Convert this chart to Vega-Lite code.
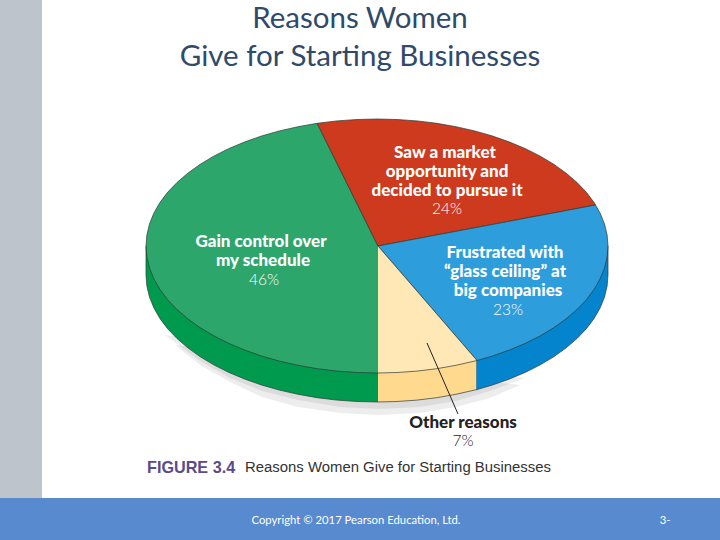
{"$schema":"https://vega.github.io/schema/vega-lite/v6.json","width":720,"height":540,"padding":0,"autosize":{"type":"fit","contains":"padding"},"background":"white","config":{"view":{"stroke":null}},
"encoding":{"x":{"field":"x","type":"quantitative","axis":null,"scale":{"domain":[0,720],"nice":false,"zero":false}},"y":{"field":"y","type":"quantitative","axis":null,"scale":{"domain":[0,540],"reverse":true,"nice":false,"zero":false}}},
"layer":[
{"data":{"values":[{"x":0,"x2":42,"y":0,"y2":498,"c":"#BEC4CC"},{"x":0,"x2":720,"y":498,"y2":540,"c":"#578ACF"}]},"mark":{"type":"rect"},"encoding":{"x2":{"field":"x2"},"y2":{"field":"y2"},"fill":{"field":"c","type":"nominal","scale":null}}},
{"data":{"values":[
{"s":"a","i":0,"x":175,"y":345},{"s":"a","i":1,"x":200,"y":365},{"s":"a","i":2,"x":230,"y":382},{"s":"a","i":3,"x":262,"y":397},{"s":"a","i":4,"x":298,"y":407},{"s":"a","i":5,"x":340,"y":413},{"s":"a","i":6,"x":378,"y":415},{"s":"a","i":7,"x":420,"y":413},{"s":"a","i":8,"x":456,"y":407},{"s":"a","i":9,"x":490,"y":398},{"s":"a","i":10,"x":520,"y":385},
{"s":"b","i":0,"x":165,"y":335},{"s":"b","i":1,"x":200,"y":361},{"s":"b","i":2,"x":230,"y":378},{"s":"b","i":3,"x":262,"y":391},{"s":"b","i":4,"x":298,"y":400},{"s":"b","i":5,"x":340,"y":407},{"s":"b","i":6,"x":378,"y":409},{"s":"b","i":7,"x":420,"y":407},{"s":"b","i":8,"x":456,"y":401},{"s":"b","i":9,"x":490,"y":391},{"s":"b","i":10,"x":525,"y":378}
]},"mark":{"type":"line","fill":"#000000","fillOpacity":0.07,"stroke":"transparent"},"encoding":{"detail":{"field":"s"},"order":{"field":"i","type":"quantitative"}}},
{"data":{"values":[
{"p":"cs","i":0,"x":378,"y":402},{"p":"cs","i":1,"x":397.1,"y":401.5},{"p":"cs","i":2,"x":417.1,"y":400.1},{"p":"cs","i":3,"x":436.8,"y":397.7},{"p":"cs","i":4,"x":456,"y":394.3},{"p":"cs","i":5,"x":477,"y":389.5},{"p":"cs","i":6,"x":477,"y":246},{"p":"cs","i":7,"x":378,"y":246},
{"p":"gs","i":0,"x":378,"y":246},{"p":"gs","i":1,"x":146,"y":246},{"p":"gs","i":2,"x":146,"y":275},{"p":"gs","i":3,"x":146.9,"y":286.1},{"p":"gs","i":4,"x":149.5,"y":297.1},{"p":"gs","i":5,"x":153.9,"y":307.9},{"p":"gs","i":6,"x":159.9,"y":318.4},{"p":"gs","i":7,"x":167.6,"y":328.7},{"p":"gs","i":8,"x":177,"y":338.5},{"p":"gs","i":9,"x":187.8,"y":347.8},{"p":"gs","i":10,"x":200,"y":356.6},{"p":"gs","i":11,"x":213.7,"y":364.8},{"p":"gs","i":12,"x":228.5,"y":372.3},{"p":"gs","i":13,"x":244.5,"y":379},{"p":"gs","i":14,"x":261.5,"y":385},{"p":"gs","i":15,"x":279.4,"y":390.1},{"p":"gs","i":16,"x":298,"y":394.3},{"p":"gs","i":17,"x":317.2,"y":397.7},{"p":"gs","i":18,"x":336.9,"y":400.1},{"p":"gs","i":19,"x":356.9,"y":401.5},{"p":"gs","i":20,"x":378,"y":402},
{"p":"bs","i":0,"x":476.4,"y":389.7},{"p":"bs","i":1,"x":492.5,"y":385},{"p":"bs","i":2,"x":509.5,"y":379},{"p":"bs","i":3,"x":525.5,"y":372.3},{"p":"bs","i":4,"x":540.3,"y":364.8},{"p":"bs","i":5,"x":554,"y":356.6},{"p":"bs","i":6,"x":566.2,"y":347.8},{"p":"bs","i":7,"x":577,"y":338.5},{"p":"bs","i":8,"x":586.4,"y":328.7},{"p":"bs","i":9,"x":594.1,"y":318.4},{"p":"bs","i":10,"x":600.1,"y":307.9},{"p":"bs","i":11,"x":604.5,"y":297.1},{"p":"bs","i":12,"x":607.1,"y":286.1},{"p":"bs","i":13,"x":608,"y":275},{"p":"bs","i":14,"x":608,"y":246},{"p":"bs","i":15,"x":476.4,"y":246},
{"p":"g","i":0,"x":378,"y":373},{"p":"g","i":1,"x":356.9,"y":372.5},{"p":"g","i":2,"x":336.9,"y":371.1},{"p":"g","i":3,"x":317.2,"y":368.7},{"p":"g","i":4,"x":298,"y":365.3},{"p":"g","i":5,"x":279.4,"y":361.1},{"p":"g","i":6,"x":261.5,"y":356},{"p":"g","i":7,"x":244.5,"y":350},{"p":"g","i":8,"x":228.5,"y":343.3},{"p":"g","i":9,"x":213.7,"y":335.8},{"p":"g","i":10,"x":200,"y":327.6},{"p":"g","i":11,"x":187.8,"y":318.8},{"p":"g","i":12,"x":177,"y":309.5},{"p":"g","i":13,"x":167.6,"y":299.7},{"p":"g","i":14,"x":159.9,"y":289.4},{"p":"g","i":15,"x":153.9,"y":278.9},{"p":"g","i":16,"x":149.5,"y":268.1},{"p":"g","i":17,"x":146.9,"y":257.1},{"p":"g","i":18,"x":146,"y":246},{"p":"g","i":19,"x":146.9,"y":234.9},{"p":"g","i":20,"x":149.5,"y":223.9},{"p":"g","i":21,"x":153.9,"y":213.1},{"p":"g","i":22,"x":159.9,"y":202.6},{"p":"g","i":23,"x":167.6,"y":192.3},{"p":"g","i":24,"x":177,"y":182.5},{"p":"g","i":25,"x":187.8,"y":173.2},{"p":"g","i":26,"x":200,"y":164.4},{"p":"g","i":27,"x":213.7,"y":156.2},{"p":"g","i":28,"x":228.5,"y":148.7},{"p":"g","i":29,"x":244.5,"y":142},{"p":"g","i":30,"x":261.5,"y":136},{"p":"g","i":31,"x":279.4,"y":130.9},{"p":"g","i":32,"x":298,"y":126.7},{"p":"g","i":33,"x":317.2,"y":123.3},{"p":"g","i":34,"x":378,"y":246},
{"p":"r","i":0,"x":378,"y":246},{"p":"r","i":1,"x":317.2,"y":123.3},{"p":"r","i":2,"x":336.9,"y":120.9},{"p":"r","i":3,"x":356.9,"y":119.5},{"p":"r","i":4,"x":377,"y":119},{"p":"r","i":5,"x":397.1,"y":119.5},{"p":"r","i":6,"x":417.1,"y":120.9},{"p":"r","i":7,"x":436.8,"y":123.3},{"p":"r","i":8,"x":456,"y":126.7},{"p":"r","i":9,"x":474.6,"y":130.9},{"p":"r","i":10,"x":492.5,"y":136},{"p":"r","i":11,"x":509.5,"y":142},{"p":"r","i":12,"x":525.5,"y":148.7},{"p":"r","i":13,"x":540.3,"y":156.2},{"p":"r","i":14,"x":554,"y":164.4},{"p":"r","i":15,"x":566.2,"y":173.2},{"p":"r","i":16,"x":577,"y":182.5},{"p":"r","i":17,"x":586.4,"y":192.3},{"p":"r","i":18,"x":594.1,"y":202.6},{"p":"r","i":19,"x":595.5,"y":205},{"p":"r","i":20,"x":378,"y":246},
{"p":"b","i":0,"x":378,"y":246},{"p":"b","i":1,"x":595.5,"y":205},{"p":"b","i":2,"x":600.1,"y":213.1},{"p":"b","i":3,"x":604.5,"y":223.9},{"p":"b","i":4,"x":607.1,"y":234.9},{"p":"b","i":5,"x":608,"y":246},{"p":"b","i":6,"x":607.1,"y":257.1},{"p":"b","i":7,"x":604.5,"y":268.1},{"p":"b","i":8,"x":600.1,"y":278.9},{"p":"b","i":9,"x":594.1,"y":289.4},{"p":"b","i":10,"x":586.4,"y":299.7},{"p":"b","i":11,"x":577,"y":309.5},{"p":"b","i":12,"x":566.2,"y":318.8},{"p":"b","i":13,"x":554,"y":327.6},{"p":"b","i":14,"x":540.3,"y":335.8},{"p":"b","i":15,"x":525.5,"y":343.3},{"p":"b","i":16,"x":509.5,"y":350},{"p":"b","i":17,"x":492.5,"y":356},{"p":"b","i":18,"x":477,"y":360.5},{"p":"b","i":19,"x":378,"y":246},
{"p":"c","i":0,"x":378,"y":246},{"p":"c","i":1,"x":477,"y":360.5},{"p":"c","i":2,"x":456,"y":365.3},{"p":"c","i":3,"x":436.8,"y":368.7},{"p":"c","i":4,"x":417.1,"y":371.1},{"p":"c","i":5,"x":397.1,"y":372.5},{"p":"c","i":6,"x":378,"y":373}
]},"mark":{"type":"line","strokeWidth":0.7,"stroke":"#2b3a33","interpolate":"linear"},"encoding":{"detail":{"field":"p"},"order":{"field":"i","type":"quantitative"},"fill":{"field":"p","type":"nominal","legend":null,"scale":{"domain":["cs","gs","bs","g","r","b","c"],"range":["#FFD98E","#009A4E","#0584CE","#2CA66B","#CE3A1D","#2E9DDB","#FFE8B6"]}}}},
{"data":{"values":[{"x":427,"y":343,"x2":458,"y2":414}]},"mark":{"type":"rule","stroke":"#222","strokeWidth":1},"encoding":{"x2":{"field":"x2"},"y2":{"field":"y2"}}},
{"data":{"values":[{"t":"Saw a market","x":445,"y":153},{"t":"opportunity and","x":447,"y":172},{"t":"decided to pursue it","x":447,"y":191},{"t":"Gain control over","x":261,"y":242},{"t":"my schedule","x":263,"y":261},{"t":"Frustrated with","x":505,"y":253},{"t":"“glass ceiling” at","x":505,"y":272},{"t":"big companies","x":508,"y":291}]},"mark":{"type":"text","font":"Lato","fontWeight":900,"fontSize":17,"fill":"white","baseline":"middle","align":"center"},"encoding":{"text":{"field":"t"}}},
{"data":{"values":[{"t":"24%","x":447,"y":209},{"t":"46%","x":264,"y":280},{"t":"23%","x":508,"y":310}]},"mark":{"type":"text","font":"Lato","fontWeight":300,"fontSize":15.5,"fill":"white","baseline":"middle","align":"center"},"encoding":{"text":{"field":"t"}}},
{"data":{"values":[{"t":"Other reasons","x":463,"y":423}]},"mark":{"type":"text","font":"Lato","fontWeight":900,"fontSize":17,"fill":"#222","baseline":"middle","align":"center"},"encoding":{"text":{"field":"t"}}},
{"data":{"values":[{"t":"7%","x":463,"y":441}]},"mark":{"type":"text","font":"Lato","fontWeight":300,"fontSize":15.5,"fill":"#222","baseline":"middle","align":"center"},"encoding":{"text":{"field":"t"}}},
{"data":{"values":[{"t":"FIGURE 3.4","x":147,"y":467.5}]},"mark":{"type":"text","font":"Liberation Sans","fontWeight":"bold","fontSize":16.2,"fill":"#5C4A8C","baseline":"middle","align":"left"},"encoding":{"text":{"field":"t"}}},
{"data":{"values":[{"t":"Reasons Women Give for Starting Businesses","x":245,"y":467.5}]},"mark":{"type":"text","font":"Liberation Sans","fontSize":14.9,"fill":"#333","baseline":"middle","align":"left"},"encoding":{"text":{"field":"t"}}},
{"data":{"values":[{"t":"Reasons Women","x":360,"y":28},{"t":"Give for Starting Businesses","x":360,"y":66}]},"mark":{"type":"text","font":"Lato","fontSize":29.5,"fill":"#2F4A6B","baseline":"alphabetic","align":"center"},"encoding":{"text":{"field":"t"}}},
{"data":{"values":[{"t":"Copyright © 2017 Pearson Education, Ltd.","x":356,"y":521},{"t":"3-","x":665,"y":521}]},"mark":{"type":"text","font":"Lato","fontSize":11.3,"fill":"white","baseline":"middle","align":"center"},"encoding":{"text":{"field":"t"}}}
]}
